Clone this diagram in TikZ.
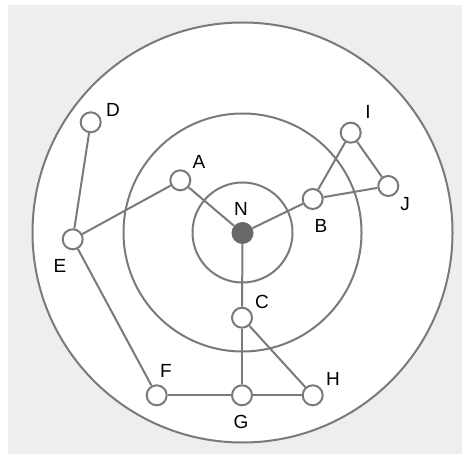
\documentclass[tikz,border=0pt]{standalone}
\usepackage{fontspec}
\setmainfont{Liberation Sans}
\usepackage{xcolor}
\definecolor{linegray}{HTML}{7A7A7A}
\definecolor{hubgray}{HTML}{686868}
\definecolor{bggray}{HTML}{EEEEEE}

\begin{document}
\begin{tikzpicture}[
    x=1pt, y=-1pt,
    ring/.style={draw=linegray, line width=2pt},
    host/.style={circle, draw=linegray, fill=white, line width=2pt, minimum size=20pt, inner sep=0pt},
    hub/.style={circle, fill=hubgray, minimum size=22pt, inner sep=0pt},
    tag/.style={font=\fontsize{19}{19}\selectfont, inner sep=0pt},
    link/.style={draw=linegray, line width=2pt}
]
\useasboundingbox (0,0) rectangle (462,454);
\fill[white] (0,0) rectangle (462,454);
\fill[bggray] (8,5) rectangle (462,454);
\fill[white] (242.5,232.5) circle (210);

\draw[ring] (242.5,232.5) circle (210);
\draw[ring] (242.5,232.5) circle (119);
\draw[ring] (242.5,232.5) circle (50);

\node[hub] at (242.5,233) (N) {};
\node[host] at (180.3,180.3) (A) {};
\node[host] at (312.7,199) (B) {};
\node[host] at (242,317.7) (C) {};
\node[host] at (90.7,122.3) (D) {};
\node[host] at (72.7,239.3) (E) {};
\node[host] at (156.7,395.3) (F) {};
\node[host] at (242,395.3) (G) {};
\node[host] at (312.7,395.3) (H) {};
\node[host] at (350.7,132.7) (I) {};
\node[host] at (388.3,186) (J) {};

\node[tag] at (241,209) (labN) {N};
\node[tag] at (199,162) (labA) {A};
\node[tag] at (321,226) (labB) {B};
\node[tag] at (262,302) (labC) {C};
\node[tag] at (113,110) (labD) {D};
\node[tag] at (60,266) (labE) {E};
\node[tag] at (166,371) (labF) {F};
\node[tag] at (241,422) (labG) {G};
\node[tag] at (333,379) (labH) {H};
\node[tag] at (368,112) (labI) {I};
\node[tag] at (405,204) (labJ) {J};

\draw[link] (D) -- (E);
\draw[link] (E) -- (A);
\draw[link] (A) -- (N);
\draw[link] (N) -- (B);
\draw[link] (B) -- (I);
\draw[link] (I) -- (J);
\draw[link] (J) -- (B);
\draw[link] (N) -- (C);
\draw[link] (C) -- (G);
\draw[link] (C) -- (H);
\draw[link] (E) -- (F);
\draw[link] (F) -- (G);
\draw[link] (G) -- (H);
\end{tikzpicture}
\end{document}
